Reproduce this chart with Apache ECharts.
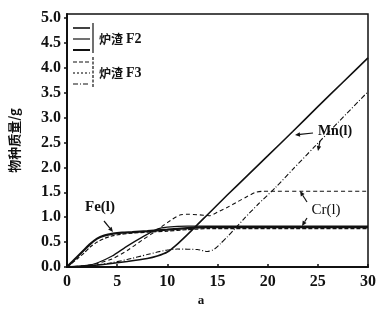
<!DOCTYPE html>
<html>
<head>
<meta charset="utf-8">
<script src="https://cdn.jsdelivr.net/npm/echarts@6/dist/echarts.min.js"></script>
<style>
html, body { margin: 0; padding: 0; background: #fff; }
#chart { width: 379px; height: 310px; }
</style>
</head>
<body>
<div id="chart"></div>
<script>
// 炉渣 F2 (solid lines)
var feF2 = [[0,0],[0.5,0.1],[1,0.2],[1.7,0.34],[2.3,0.46],[3,0.57],[3.7,0.63],[4.6,0.67],[5.5,0.69],[6.5,0.7],[8,0.72],[10,0.75],[12,0.78],[14,0.8],[20,0.8],[30,0.8]];
var mnF2 = [[0,0],[2,0.02],[4,0.06],[6,0.11],[8,0.17],[9,0.22],[10,0.3],[11,0.46],[12,0.65],[13,0.85],[14,1.05],[16,1.45],[18,1.84],[20,2.23],[22.5,2.72],[25,3.22],[27.5,3.71],[30,4.2]];
var crF2 = [[0,0],[2,0.03],[3,0.08],[4.5,0.22],[6,0.42],[7.5,0.6],[9,0.76],[10,0.8],[12,0.82],[20,0.82],[30,0.82]];
// 炉渣 F3 (broken lines)
var feF3 = [[0,0],[0.5,0.08],[1,0.16],[1.7,0.28],[2.3,0.4],[3,0.5],[3.8,0.58],[4.6,0.63],[5.5,0.66],[6.5,0.68],[8,0.7],[10,0.72],[12,0.75],[14,0.77],[20,0.77],[30,0.77]];
var mnF3 = [[0,0],[2,0.02],[4,0.07],[6,0.15],[8,0.25],[9,0.3],[10,0.34],[11,0.36],[13,0.35],[14,0.31],[14.7,0.36],[15.3,0.47],[16,0.61],[16.7,0.76],[17.7,0.98],[19,1.25],[20.8,1.6],[22.5,1.96],[24.6,2.4],[27,2.9],[30,3.52]];
var crF3 = [[0,0],[2,0.03],[3,0.07],[4.5,0.16],[6,0.33],[7.5,0.54],[8.4,0.66],[9.5,0.82],[10.5,0.96],[11.2,1.04],[12,1.06],[13,1.05],[14.2,1.03],[15,1.1],[16,1.2],[17,1.31],[18,1.42],[18.8,1.5],[19.5,1.52],[25,1.52],[30,1.52]];

var X_MIN = 0, X_MAX = 30, X_STEP = 5;
var Y_MIN = 0, Y_MAX = 5.08, Y_STEP = 0.5;

var INK = '#111';
var NUM_FONT = '"Liberation Serif", "DejaVu Serif", serif';
var CJK_FONT = '"Noto Sans CJK SC", sans-serif';

function makeLine(name, data, width, dash){
	return {
		name: name,
		type: 'line',
		data: data,
		showSymbol: false,
		smooth: 0.2,
		silent: true,
		lineStyle: { color: INK, width: width, type: dash }
	};
}

function arrow(x1, y1, x2, y2){
	// line from (x1,y1) to tip (x2,y2) with a small head
	var a = Math.atan2(y2 - y1, x2 - x1);
	var h = 5, w = 2.2;
	var bx = x2 - h * Math.cos(a), by = y2 - h * Math.sin(a);
	return [
		{ type: 'line', silent: true, shape: { x1: x1, y1: y1, x2: bx, y2: by }, style: { stroke: INK, lineWidth: 1.2 } },
		{ type: 'polygon', silent: true, shape: { points: [[x2, y2], [bx - w * Math.sin(a), by + w * Math.cos(a)], [bx + w * Math.sin(a), by - w * Math.cos(a)]] }, style: { fill: INK } }
	];
}

function legendGroup(y0, dashes, label){
	var items = [];
	for(var i = 0; i < dashes.length; i++){
		items.push({ type: 'line', silent: true, shape: { x1: 73, y1: y0 + i * 11, x2: 90, y2: y0 + i * 11 }, style: { stroke: INK, lineWidth: dashes[i].w, lineDash: dashes[i].d } });
	}
	items.push({ type: 'line', silent: true, shape: { x1: 93, y1: y0 - 5, x2: 93, y2: y0 + 25 }, style: { stroke: INK, lineWidth: 1.2, lineDash: dashes[0].d ? [3, 1.5] : null } });
	items.push({ type: 'text', silent: true, style: { x: 99, y: y0 + 11, text: '炉渣', font: 'bold 12px ' + CJK_FONT, fill: INK, verticalAlign: 'middle' } });
	items.push({ type: 'text', silent: true, style: { x: 126, y: y0 + 11, text: 'F' + label, font: 'bold 14px ' + NUM_FONT, fill: INK, verticalAlign: 'middle' } });
	return items;
}

var graphics = [];
graphics = graphics.concat(legendGroup(28, [{w:1.6,d:null},{w:1.2,d:null},{w:2,d:null}], '2'));
graphics = graphics.concat(legendGroup(62, [{w:1.2,d:[4,2]},{w:1.1,d:[2,2]},{w:1.1,d:[5,2,1,2]}], '3'));
graphics.push({ type: 'text', silent: true, style: { x: 100, y: 207, text: 'Fe(l)', font: 'bold 15px ' + NUM_FONT, fill: INK, align: 'center', verticalAlign: 'middle' } });
graphics = graphics.concat(arrow(104, 221, 113, 232));
graphics.push({ type: 'text', silent: true, style: { x: 335, y: 131, text: 'Mn(l)', font: 'bold 14px ' + NUM_FONT, fill: INK, align: 'center', verticalAlign: 'middle' } });
graphics = graphics.concat(arrow(313, 133, 295, 135));
graphics = graphics.concat(arrow(320, 141, 318, 151));
graphics.push({ type: 'text', silent: true, style: { x: 326, y: 210, text: 'Cr(l)', font: '15px ' + NUM_FONT, fill: INK, align: 'center', verticalAlign: 'middle' } });
graphics = graphics.concat(arrow(307, 202, 300, 191));
graphics = graphics.concat(arrow(307, 218, 302, 226));
graphics.push({ type: 'text', silent: true, style: { x: 201, y: 301, text: 'a', font: 'bold 13px ' + NUM_FONT, fill: INK, align: 'center', verticalAlign: 'middle' } });

var chart = echarts.init(document.getElementById('chart'), null, { renderer: 'canvas' });
var option = {
	animation: false,
	backgroundColor: '#fff',
	grid: { left: 62, right: 1, top: 14, bottom: 43, show: true, borderColor: INK, borderWidth: 1.5, backgroundColor: 'transparent' },
	xAxis: {
		type: 'value', min: X_MIN, max: X_MAX, interval: X_STEP,
		axisLine: { show: true, onZero: false, lineStyle: { color: INK, width: 2 } },
		axisTick: { show: true, inside: true, length: 3, lineStyle: { color: INK, width: 1.5 } },
		axisLabel: { color: INK, fontFamily: NUM_FONT, fontWeight: 'bold', fontSize: 16, margin: 7 },
		splitLine: { show: false }
	},
	yAxis: {
		type: 'value', min: Y_MIN, max: Y_MAX, interval: Y_STEP,
		name: '物种质量/g', nameLocation: 'middle', nameGap: 46, nameRotate: 90,
		nameTextStyle: { color: INK, fontFamily: CJK_FONT, fontWeight: 'bold', fontSize: 13 },
		axisLine: { show: true, onZero: false, lineStyle: { color: INK, width: 2 } },
		axisTick: { show: true, inside: false, length: 3, lineStyle: { color: INK, width: 1.5 } },
		axisLabel: { color: INK, fontFamily: NUM_FONT, fontWeight: 'bold', fontSize: 16, margin: 6, showMaxLabel: false,
			formatter: function(v){ return v.toFixed(1); } },
		splitLine: { show: false }
	},
	series: [
		makeLine('Fe F2', feF2, 2.2, 'solid'),
		makeLine('Mn F2', mnF2, 1.6, 'solid'),
		makeLine('Cr F2', crF2, 1.3, 'solid'),
		makeLine('Fe F3', feF3, 1.2, [4, 2]),
		makeLine('Mn F3', mnF3, 1.1, [5, 2, 1, 2]),
		makeLine('Cr F3', crF3, 1.1, [4, 3])
	],
	graphic: graphics
};
chart.setOption(option);
</script>
</body>
</html>
